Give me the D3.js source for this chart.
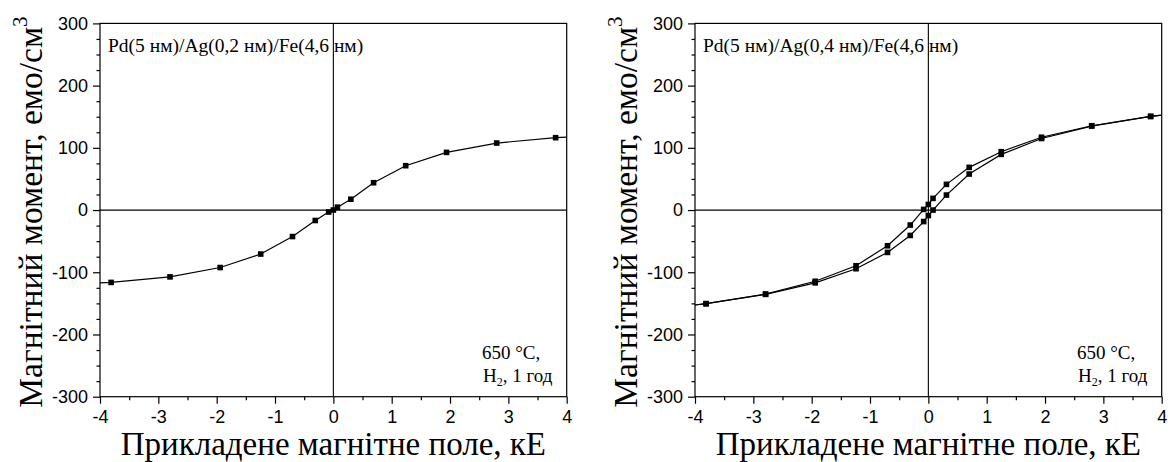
<!DOCTYPE html>
<html>
  <head>
    <meta charset="utf-8">
    <script src="https://d3js.org/d3.v7.min.js"></script>
    <title>Магнітний момент</title>
    <style>
      body { margin: 0; background: #fff; }
      svg text.sans { font-family: "Liberation Sans", Arial, sans-serif !important; font-size: 18px !important; }
      svg text.serif { font-family: "Liberation Serif", "Times New Roman", serif !important; }
    </style>
  </head>
  <body>
    <div id="chart"></div>
    <script>
      // field values, kOe (points past +-4 only carry the line to the frame)
      const fieldLeft = [-4.4, -3.81, -2.8, -1.94, -1.245, -0.7, -0.31, -0.08, 0, 0.07, 0.3, 0.69, 1.24, 1.94, 2.8, 3.81, 4.4];
      const momentLeft = [-119, -116.3, -107.4, -92.4, -70.7, -42.6, -16.8, -3.2, 0, 4.6, 17.4, 43.9, 71.3, 92.7, 107.7, 116.3, 119];

      const fieldRight = [-4.4, -3.81, -2.79, -1.94, -1.24, -0.7, -0.31, -0.08, 0, 0.08, 0.31, 0.7, 1.25, 1.94, 2.8, 3.81, 4.4];
      // descending branch (upper curve)
      const momentRightUpper = [-157, -150.5, -135, -114.5, -89.5, -57.4, -24.1, 1, 9, 18.8, 41.3, 68.6, 93.8, 117, 135.5, 150.5, 157];
      // ascending branch (lower curve)
      const momentRightLower = [-157, -150.5, -135.5, -117, -94.3, -68.1, -40.8, -18.5, -8.8, 0, 24.1, 57.9, 89.5, 115, 135, 150.5, 157];

      const xTicks = [-4, -3, -2, -1, 0, 1, 2, 3, 4];
      const yTicks = [-300, -200, -100, 0, 100, 200, 300];
      const panelLabels = ["Pd(5 нм)/Ag(0,2 нм)/Fe(4,6 нм)", "Pd(5 нм)/Ag(0,4 нм)/Fe(4,6 нм)"];

      const W = 1170, H = 462;
      const PLOT_W = 466.7, TOP = 23.4, BOTTOM = 396.7;

      const svg = d3.select("#chart").append("svg")
        .attr("width", W).attr("height", H);

      function serifText(g, size) {
        return g.append("text").attr("class", "serif")
          .attr("style", `font-family: 'Liberation Serif', serif; font-size: ${size}px`)
          .attr("fill", "#000");
      }

      function drawPanel(left, label, series, id) {
        const x = d3.scaleLinear().domain([-4, 4]).range([left, left + PLOT_W]);
        const y = d3.scaleLinear().domain([-300, 300]).range([BOTTOM, TOP]);
        const g = svg.append("g");

        // minor ticks
        const minorX = d3.range(-4, 4.01, 0.5).filter(v => !xTicks.includes(v));
        const minorY = d3.range(-300, 301, 25).filter(v => !yTicks.includes(v));
        g.append("g").attr("transform", `translate(0,${BOTTOM})`)
          .call(d3.axisBottom(x).tickValues(minorX).tickSize(3.5).tickFormat(""))
          .call(a => { a.select(".domain").remove(); a.selectAll("text").remove(); });
        g.append("g").attr("transform", `translate(${left},0)`)
          .call(d3.axisLeft(y).tickValues(minorY).tickSize(3.5).tickFormat(""))
          .call(a => { a.select(".domain").remove(); a.selectAll("text").remove(); });

        // major ticks
        g.append("g").attr("transform", `translate(0,${BOTTOM})`)
          .call(d3.axisBottom(x).tickValues(xTicks).tickSize(7).tickPadding(7).tickFormat(d3.format("d")))
          .call(a => a.select(".domain").remove());
        g.append("g").attr("transform", `translate(${left},0)`)
          .call(d3.axisLeft(y).tickValues(yTicks).tickSize(7).tickPadding(5).tickFormat(d3.format("d")))
          .call(a => a.select(".domain").remove());
        g.selectAll(".tick line").attr("stroke", "#000").attr("stroke-width", 1.2);
        g.selectAll(".tick text")
          .attr("class", "sans").attr("fill", "#000")
          .text(function() { return this.textContent.replace("−", "-"); });

        // zero lines
        g.append("line").attr("x1", x(-4)).attr("x2", x(4)).attr("y1", y(0)).attr("y2", y(0))
          .attr("stroke", "#000").attr("stroke-width", 1.3);
        g.append("line").attr("x1", x(0)).attr("x2", x(0)).attr("y1", y(300)).attr("y2", y(-300))
          .attr("stroke", "#000").attr("stroke-width", 1.1);

        // data
        svg.append("clipPath").attr("id", "clip" + id).append("rect")
          .attr("x", x(-4)).attr("y", y(300)).attr("width", PLOT_W).attr("height", BOTTOM - TOP);
        const plot = g.append("g").attr("clip-path", `url(#clip${id})`);
        const line = d3.line().x(d => x(d[0])).y(d => y(d[1]));
        series.forEach(s => {
          const pts = s.field.map((f, i) => [f, s.moment[i]]);
          plot.append("path").datum(pts).attr("d", line)
            .attr("fill", "none").attr("stroke", "#000").attr("stroke-width", 1.2);
          plot.selectAll(null).data(pts).enter().append("rect")
            .attr("x", d => x(d[0]) - 2.8).attr("y", d => y(d[1]) - 2.8)
            .attr("width", 5.6).attr("height", 5.6).attr("fill", "#000");
        });

        // frame
        g.append("rect").attr("x", x(-4)).attr("y", y(300)).attr("width", PLOT_W).attr("height", BOTTOM - TOP)
          .attr("fill", "none").attr("stroke", "#000").attr("stroke-width", 1.2);

        // texts
        serifText(g, 19.5).attr("x", left + 8).attr("y", 52).text(label);
        serifText(g, 19).attr("x", left + 382).attr("y", 359).text("650 °C,");
        const t = serifText(g, 19).attr("x", left + 383).attr("y", 381.5);
        t.append("tspan").text("H");
        t.append("tspan").attr("style", "font-size: 12px").attr("dy", 4).text("2");
        t.append("tspan").attr("dy", -4).text(", 1 год");

        serifText(g, 33).attr("x", left + PLOT_W / 2).attr("y", 455)
          .attr("text-anchor", "middle").text("Прикладене магнітне поле, кЕ");

        const yt = serifText(g, 33.5)
          .attr("transform", `translate(${left - 58},${(TOP + BOTTOM) / 2 + 2}) rotate(-90)`)
          .attr("text-anchor", "middle");
        yt.append("tspan").text("Магнітний момент, емо/см");
        yt.append("tspan").attr("style", "font-size: 21px").attr("dy", -15).text("3");
      }

      drawPanel(100, panelLabels[0], [{ field: fieldLeft, moment: momentLeft }], 0);
      drawPanel(695, panelLabels[1], [
        { field: fieldRight, moment: momentRightUpper },
        { field: fieldRight, moment: momentRightLower }
      ], 1);
    </script>
  </body>
</html>
